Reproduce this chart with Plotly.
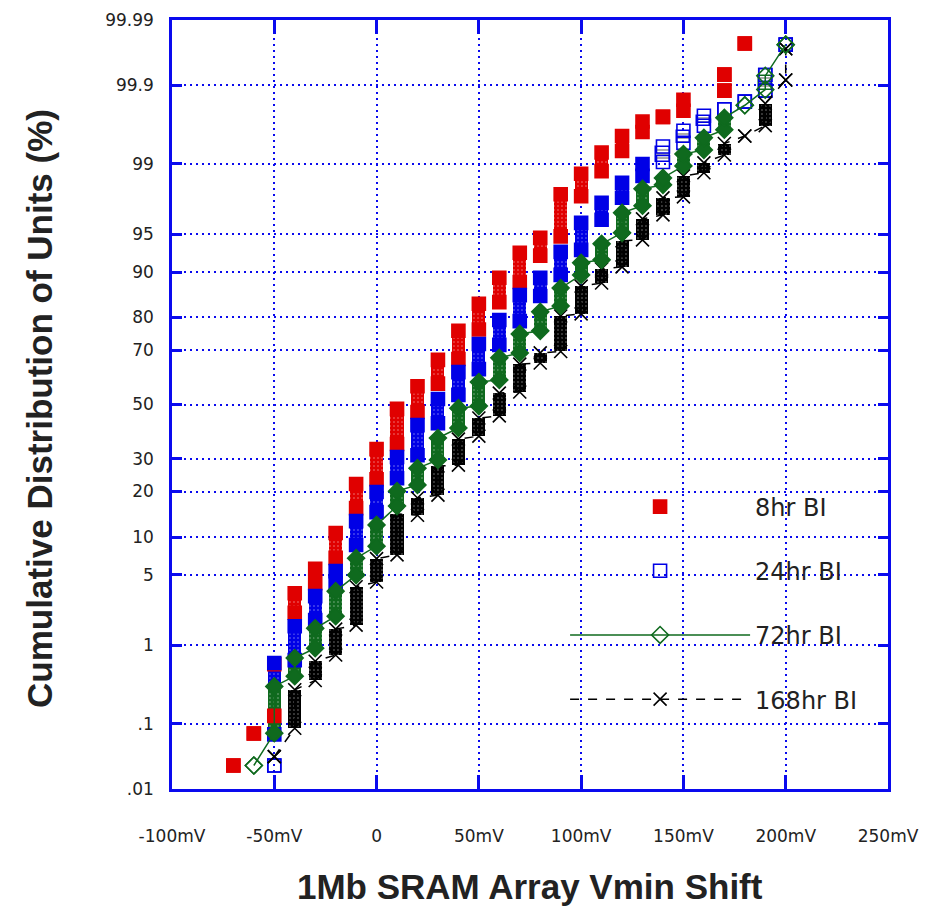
from statistics import NormalDist
import plotly.graph_objects as go

# cumulative % of units, read per 10mV column: low and high end of each stack
VMIN_8HR = [-70, -60, -50, -40, -30, -20, -10, 0, 10, 20, 30, 40, 50, 60, 70, 80, 90,
            100, 110, 120, 130, 140, 150, 170, 170, 180]
LO_8HR = [0.024, 0.073, 0.13, 2.2, 4.2, 6.9, 15.8, 23.5, 35.1, 47.1, 58.0, 67.0, 76.6, 83.9,
          88.2, 92.5, 94.8, 97.8, 98.8, 99.29, 99.58, 99.73, 99.775, 99.88, 99.929, 99.976]
HI_8HR = [0.024, 0.073, 0.60, 3.4, 5.6, 10.7, 22.1, 33.3, 48.3, 57.0, 66.7, 76.2, 83.5, 89.0,
          92.9, 94.65, 97.9, 98.72, 99.26, 99.53, 99.69, 99.73, 99.84, 99.88, 99.929, 99.976]

VMIN_24HR = [-50, -50, -40, -30, -20, -10, 0, 10, 20, 30, 40, 50, 60, 70, 80, 90, 100,
             110, 120, 130, 140, 150, 160, 170, 180, 190, 190, 200]
LO_24HR = [0.024, 0.071, 0.67, 1.85, 4.2, 8.7, 14.9, 23.8, 31.2, 42.8, 53.7, 63.4, 71.8, 79.0,
           85.3, 89.5, 93.26, 96.3, 97.72, 98.65, 99.05, 99.43, 99.65, 99.785, 99.83, 99.88,
           99.928, 99.975]
HI_24HR = [0.024, 0.62, 1.6, 3.19, 5.35, 12.97, 19.85, 30.6, 42.1, 52.1, 62.3, 72.1, 79.3, 85.5,
           88.96, 93.0, 96.05, 97.44, 98.4, 99.0, 99.37, 99.595, 99.739, 99.785, 99.83, 99.88,
           99.928, 99.975]

VMIN_72HR = [-60, -50, -40, -30, -20, -10, 0, 10, 20, 30, 40, 50, 60, 70, 80, 90, 100,
             110, 120, 130, 140, 150, 160, 170, 180, 190, 200]
LO_72HR = [0.024, 0.074, 0.43, 0.92, 2.03, 4.95, 8.53, 16.3, 21.8, 29.6, 41.0, 49.4, 59.4, 69.1,
           76.2, 82.98, 89.5, 91.91, 95.16, 97.27, 98.32, 98.95, 99.31, 99.606, 99.81, 99.884,
           99.975]
HI_72HR = [0.024, 0.32, 0.71, 1.52, 3.55, 6.86, 12.2, 20.1, 26.9, 37.3, 48.6, 58.6, 67.4, 75.25,
           81.5, 87.0, 91.47, 93.99, 96.81, 98.15, 98.58, 99.23, 99.506, 99.723, 99.81, 99.926,
           99.975]

VMIN_168HR = [-50, -40, -30, -20, -10, 0, 10, 20, 30, 40, 50, 60, 70, 80, 90, 100, 110,
              120, 130, 140, 150, 160, 170, 180, 190, 200, 200]
LO_168HR = [0.033, 0.087, 0.38, 0.77, 1.64, 4.3, 7.3, 14.2, 19.05, 27.9, 38.0, 45.6, 54.8, 65.6,
            69.6, 80.95, 88.0, 90.84, 94.43, 96.67, 97.77, 98.75, 99.21, 99.53, 99.65, 99.915,
            99.971]
HI_168HR = [0.033, 0.29, 0.65, 1.49, 3.9, 6.8, 14.5, 18.3, 27.6, 36.9, 44.8, 54.4, 65.2, 69.1,
            80.4, 87.4, 90.5, 94.33, 96.37, 97.72, 98.65, 99.03, 99.42, 99.53, 99.82, 99.915,
            99.971]

Y_TICKS = [0.01, 0.1, 1, 5, 10, 20, 30, 50, 70, 80, 90, 95, 99, 99.9, 99.99]
Y_TICK_TEXT = [".01", ".1", "1", "5", "10", "20", "30", "50", "70", "80", "90", "95", "99",
               "99.9", "99.99"]
X_TICKS = [-100, -50, 0, 50, 100, 150, 200, 250]
X_TICK_TEXT = ["-100mV", "-50mV", "0", "50mV", "100mV", "150mV", "200mV", "250mV"]

TITLE_FONT = "Liberation Sans, Arial, sans-serif"
TICK_FONT = "DejaVu Sans, Verdana, sans-serif"
BLUE_FRAME = "#0a0aee"
TEXT = "#222222"
BAR_W = 6.4  # mV, about one marker wide


def probit(pct):
    return NormalDist().inv_cdf(pct / 100.0)


# name, x, lo, hi, color, filled symbol, open symbol, sparse-from, line dash, dot colour
series = [
    ("8hr BI", VMIN_8HR, LO_8HR, HI_8HR, "#e00000", "square", "square", 999, None, "#9a0000"),
    ("24hr BI", VMIN_24HR, LO_24HR, HI_24HR, "#0000e6", "square", "square-open", 140, None, "#00008a"),
    ("168hr BI", VMIN_168HR, LO_168HR, HI_168HR, "#000000", "x-thin-open", "x-thin-open", 999, "dash", "#000000"),
    ("72hr BI", VMIN_72HR, LO_72HR, HI_72HR, "#0f6a1e", "diamond", "diamond-open", 180, "solid", "#013a0a"),
]
rank = {"8hr BI": 1, "24hr BI": 2, "72hr BI": 3, "168hr BI": 4}

fig = go.Figure()

for name, xs, lo, hi, color, sym_fill, sym_open, sparse_from, dash, dots in series:
    zlo = [probit(v) for v in lo]
    zhi = [probit(v) for v in hi]
    sparse = [x >= sparse_from for x in xs]
    single = [a == b for a, b in zip(lo, hi)]

    # the stacked columns of points
    fig.add_trace(go.Bar(
        x=xs, base=zlo, y=[b - a for a, b in zip(zlo, zhi)], width=BAR_W,
        marker=dict(
            color=["white" if s else color for s in sparse],
            line=dict(color=color, width=[1.5 if (s and not o) else 0 for s, o in zip(sparse, single)]),
            pattern=dict(shape=["-" if s else "." for s in sparse],
                         fgcolor=[color if s else dots for s in sparse],
                         bgcolor=["white" if s else color for s in sparse],
                         fillmode="overlay", size=4,
                         solidity=[0.45 if s else 0.12 for s in sparse]),
        ),
        showlegend=False, hoverinfo="skip", legendgroup=name,
    ))

    px, pz, psym = [], [], []
    for x, a, b, s, o in zip(xs, zlo, zhi, sparse, single):
        sym = sym_open if (s or o) else sym_fill
        px += [x, x]
        pz += [a, b]
        psym += [sym, sym]

    fig.add_trace(go.Scatter(
        x=px, y=pz, name=name, legendgroup=name, legendrank=rank[name],
        mode="lines+markers" if dash else "markers",
        line=dict(color=color, width=1.5, dash=dash or "solid"),
        marker=dict(symbol=psym, size=13, color=color,
                    line=dict(color=color, width=1.6)),
        hoverinfo="skip",
    ))

# page body adds an 8px margin, so the figure is drawn 8px smaller
fig.update_layout(
    width=943, height=906,
    margin=dict(l=164, r=63, t=12, b=125),
    paper_bgcolor="white", plot_bgcolor="white",
    barmode="overlay", bargap=0,
    font=dict(family=TICK_FONT, size=17, color=TEXT),
    legend=dict(x=0.549, y=0.396, xanchor="left", yanchor="top",
                bgcolor="rgba(0,0,0,0)", font=dict(family=TICK_FONT, size=24, color=TEXT),
                traceorder="grouped", tracegroupgap=30, itemwidth=180),
    annotations=[
        dict(text="Cumulative Distribution of Units (%)", textangle=-90,
             xref="paper", yref="paper", x=-0.1844, y=0.4955,
             xanchor="center", yanchor="middle", showarrow=False,
             font=dict(family=TITLE_FONT, size=35, weight="bold", color=TEXT)),
        dict(text="1Mb SRAM Array Vmin Shift",
             xref="paper", yref="paper", x=0.5, y=-0.1274,
             xanchor="center", yanchor="middle", showarrow=False,
             font=dict(family=TITLE_FONT, size=35, weight="bold", color=TEXT)),
    ],
)

axis_common = dict(
    showline=True, linecolor=BLUE_FRAME, linewidth=2.5, mirror="allticks",
    ticks="inside", tickcolor=BLUE_FRAME, tickwidth=2.5,
    showgrid=True, gridcolor=BLUE_FRAME, gridwidth=1.5, griddash="2px,4px",
    zeroline=False, automargin=False,
)

fig.update_xaxes(
    range=[-100, 250], tickvals=X_TICKS, ticktext=X_TICK_TEXT, ticklen=14,
    ticklabelstandoff=30, **axis_common,
)
fig.update_yaxes(
    range=[probit(0.01), probit(99.99)], tickvals=[probit(v) for v in Y_TICKS],
    ticktext=Y_TICK_TEXT, ticklen=10, ticklabelstandoff=12, **axis_common,
)

fig.write_html("out.html")
